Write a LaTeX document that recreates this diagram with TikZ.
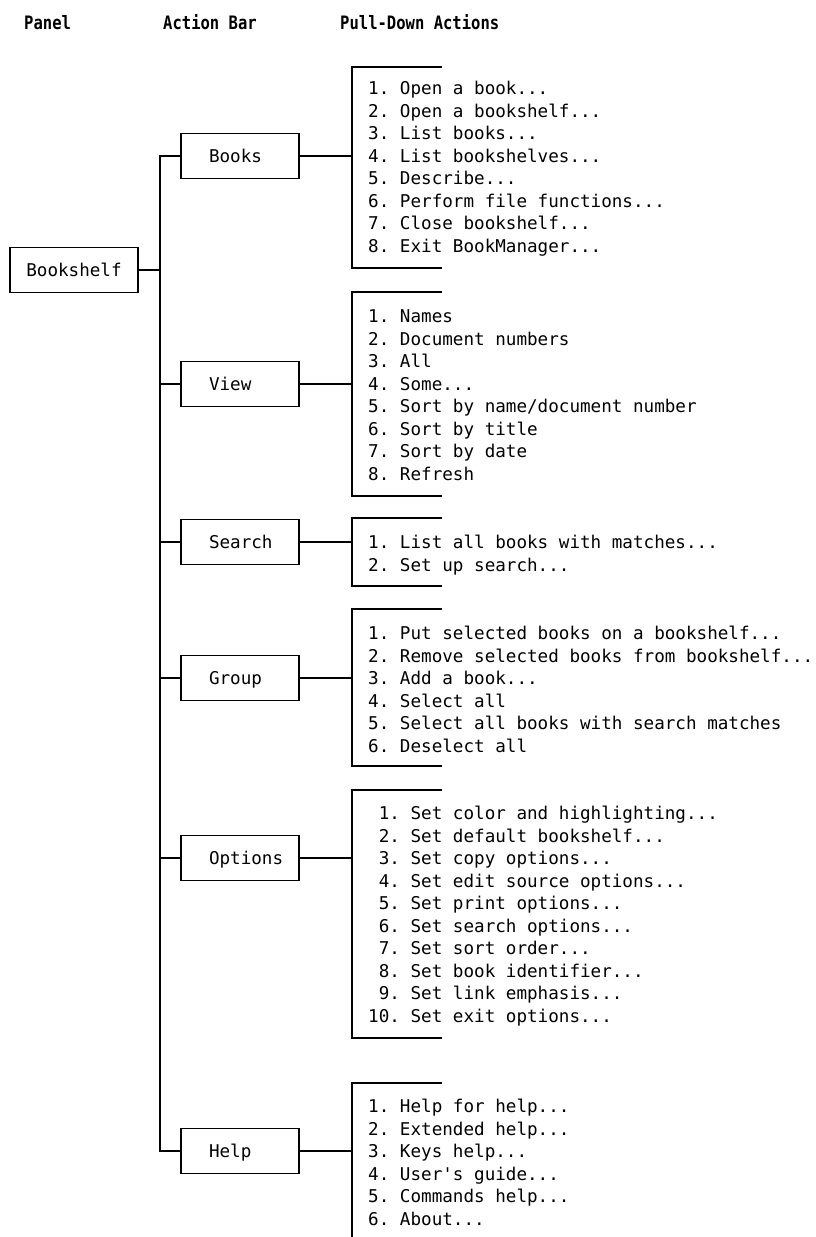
\documentclass[tikz,border=0pt]{standalone}
\usepackage{fontspec}
\setmainfont{DejaVu Sans Mono}
\usepackage{graphicx}
\newcommand{\abx}[1]{\makebox[118pt][l]{\hspace*{28pt}#1}}
\newcommand{\hdrtxt}[1]{\scalebox{0.84}[1]{#1}}
\newcommand{\ddd}{...}
\tikzset{
  lbl/.style={font=\fontsize{17.6}{22.55}\selectfont\frenchspacing, inner sep=0pt, anchor=base west},
  hdr/.style={font=\bfseries\fontsize{18.5}{22}\selectfont\frenchspacing, inner sep=0pt, anchor=base west},
  actbox/.style={draw, line width=1.3pt, minimum height=45pt, inner xsep=0pt, inner ysep=0pt,
    text height=13pt, text depth=0pt, font=\fontsize{17.6}{22.55}\selectfont},
  ln/.style={line width=1.3pt},
}
\begin{document}
\begin{tikzpicture}[x=1pt,y=-1pt]
\useasboundingbox (0,0) rectangle (816,1237);

% headers
\node[hdr] (h-panel) at (24,29) {\hdrtxt{Panel}};
\node[hdr] (h-bar) at (163,29) {\hdrtxt{Action Bar}};
\node[hdr] (h-pull) at (340,29) {\hdrtxt{Pull-Down Actions}};

% panel
\node[actbox, minimum width=128pt] (bs) at (74,270) {Bookshelf};

% action bar boxes
\node[actbox] (books) at (240,156) {\abx{Books}};
\node[actbox] (view) at (240,384) {\abx{View}};
\node[actbox] (search) at (240,542) {\abx{Search}};
\node[actbox] (group) at (240,678) {\abx{Group}};
\node[actbox] (options) at (240,858) {\abx{Options}};
\node[actbox] (help) at (240,1151) {\abx{Help}};

% trunk
\coordinate (trunk) at (160,0);
\draw[ln] (books.west) -- (books.west -| trunk) -- (help.west -| trunk) -- (help.west);
\draw[ln] (bs.east) -- (bs.east -| trunk);
\draw[ln] (view.west) -- (view.west -| trunk);
\draw[ln] (search.west) -- (search.west -| trunk);
\draw[ln] (group.west) -- (group.west -| trunk);
\draw[ln] (options.west) -- (options.west -| trunk);

% brackets
\coordinate (books-t) at (442,67);   \coordinate (books-b) at (442,268);
\coordinate (view-t) at (442,292);   \coordinate (view-b) at (442,496);
\coordinate (search-t) at (442,518); \coordinate (search-b) at (442,586);
\coordinate (group-t) at (442,609);  \coordinate (group-b) at (442,766);
\coordinate (options-t) at (442,790);\coordinate (options-b) at (442,1038);
\coordinate (help-t) at (442,1083);  \coordinate (help-b) at (352,1237);
\coordinate (bx) at (352,0);

\draw[ln] (books-t) -- (books-t -| bx) -- (books-b -| bx) -- (books-b);
\draw[ln] (view-t) -- (view-t -| bx) -- (view-b -| bx) -- (view-b);
\draw[ln] (search-t) -- (search-t -| bx) -- (search-b -| bx) -- (search-b);
\draw[ln] (group-t) -- (group-t -| bx) -- (group-b -| bx) -- (group-b);
\draw[ln] (options-t) -- (options-t -| bx) -- (options-b -| bx) -- (options-b);
\draw[ln] (help-t) -- (help-t -| bx) -- (help-b);

% connectors action bar -> pull-down
\draw[ln] (books.east) -- (books.east -| bx);
\draw[ln] (view.east) -- (view.east -| bx);
\draw[ln] (search.east) -- (search.east -| bx);
\draw[ln] (group.east) -- (group.east -| bx);
\draw[ln] (options.east) -- (options.east -| bx);
\draw[ln] (help.east) -- (help.east -| bx);

% pull-down items
\foreach \t [count=\i] in {1. Open a book\ddd,2. Open a bookshelf\ddd,3. List books\ddd,4. List bookshelves\ddd,5. Describe\ddd,6. Perform file functions\ddd,7. Close bookshelf\ddd,8. Exit BookManager\ddd}
  \node[lbl] (books-\i) at (368,{94.5+(\i-1)*22.55}) {\t};
\foreach \t [count=\i] in {1. Names,2. Document numbers,3. All,4. Some\ddd,5. Sort by name/document number,6. Sort by title,7. Sort by date,8. Refresh}
  \node[lbl] (view-\i) at (368,{322.5+(\i-1)*22.55}) {\t};
\foreach \t [count=\i] in {1. List all books with matches\ddd,2. Set up search\ddd}
  \node[lbl] (search-\i) at (368,{548.5+(\i-1)*22.55}) {\t};
\foreach \t [count=\i] in {1. Put selected books on a bookshelf\ddd,2. Remove selected books from bookshelf\ddd,3. Add a book\ddd,4. Select all,5. Select all books with search matches,6. Deselect all}
  \node[lbl] (group-\i) at (368,{639.5+(\i-1)*22.55}) {\t};
\foreach \t [count=\i] in {\hphantom{0}1. Set color and highlighting\ddd,\hphantom{0}2. Set default bookshelf\ddd,\hphantom{0}3. Set copy options\ddd,\hphantom{0}4. Set edit source options\ddd,\hphantom{0}5. Set print options\ddd,\hphantom{0}6. Set search options\ddd,\hphantom{0}7. Set sort order\ddd,\hphantom{0}8. Set book identifier\ddd,\hphantom{0}9. Set link emphasis\ddd,10. Set exit options\ddd}
  \node[lbl] (options-\i) at (368,{819.5+(\i-1)*22.55}) {\t};
\foreach \t [count=\i] in {1. Help for help\ddd,2. Extended help\ddd,3. Keys help\ddd,4. User\textquotesingle s guide\ddd,5. Commands help\ddd,6. About\ddd}
  \node[lbl] (help-\i) at (368,{1112.5+(\i-1)*22.55}) {\t};
\end{tikzpicture}
\end{document}
